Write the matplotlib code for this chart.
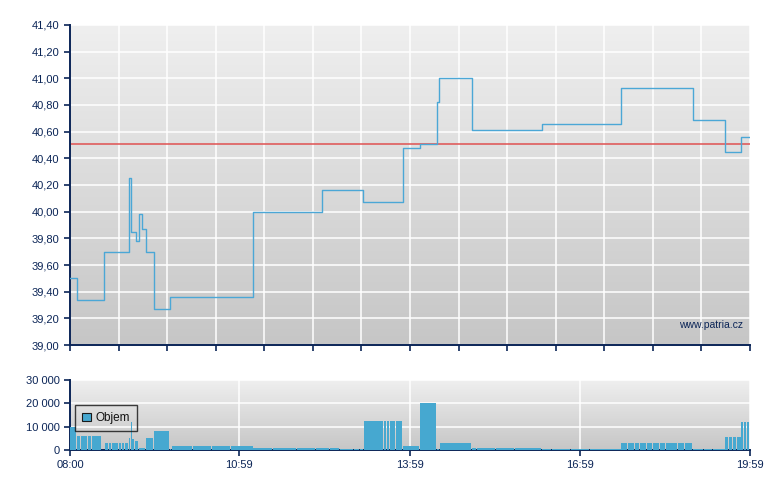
import numpy as np
import matplotlib
matplotlib.use("Agg")
import matplotlib.pyplot as plt
from matplotlib.colors import LinearSegmentedColormap
from matplotlib.ticker import FuncFormatter, FixedLocator
from matplotlib.patches import Patch

# ---- data (minutes after 08:00) ----
price_times = [0, 7, 36, 62, 65, 70, 73, 76, 80, 89, 106, 194, 266, 310, 352, 370,
               388, 390, 425, 499, 583, 659, 693, 710, 719]
price_values = [39.50, 39.34, 39.70, 40.25, 39.85, 39.78, 39.98, 39.87, 39.70, 39.27,
                39.36, 40.00, 40.16, 40.07, 40.48, 40.51, 40.82, 41.00, 40.61, 40.66,
                40.93, 40.69, 40.45, 40.56, 40.56]
ref_price = 40.51

vol_times = [0, 7, 12, 19, 23, 28, 34, 37, 41, 44, 48, 52, 55, 58, 62, 64.5, 65.3, 69,
             73, 80, 89, 106, 108, 130, 150, 170, 194, 215, 240, 260, 275, 285, 300,
             307, 311, 332, 335, 338, 342, 345, 352, 370, 388, 391, 425, 430, 450, 470,
             499, 510, 530, 550, 565, 583, 590, 597, 603, 610, 616, 624, 630, 637, 643,
             650, 659, 670, 680, 693, 697, 701, 705, 710, 713, 716]
vol_values = [10000, 6000, 6000, 6000, 6000, 6000, 0, 3000, 3000, 3000, 3000, 3000, 3000,
              3000, 5000, 12000, 4700, 4000, 900, 5000, 8000, 300, 1700, 1700, 1700, 1700,
              850, 850, 850, 850, 700, 600, 600, 400, 12500, 12500, 12500, 12500, 12500,
              12500, 1700, 20000, 300, 3100, 800, 850, 850, 850, 400, 400, 400, 400, 400,
              3100, 3100, 3100, 3100, 3100, 3100, 3100, 3100, 3100, 3100, 3100, 400, 400,
              400, 5500, 5500, 5500, 5500, 12000, 12000, 12000]
session_end = 719
time_tick_pos = [0, 179, 359, 539, 719]
time_tick_labels = ["08:00", "10:59", "13:59", "16:59", "19:59"]
legend_label = "Objem"
watermark = "www.patria.cz"

# ---- style ----
plt.rcParams['font.family'] = ['Liberation Sans', 'DejaVu Sans']
navy = '#0b2557'
line_c = '#4ba7d6'
bar_c = '#46a8d0'
grad = LinearSegmentedColormap.from_list('g', ['#c6c6c6', '#efefef'])

fig = plt.figure(figsize=(7.8, 4.9), dpi=100)
ax1 = fig.add_axes([70/780, 1-345/490, 680/780, 320/490])
ax2 = fig.add_axes([70/780, 1-450/490, 680/780, 70/490])

for ax in (ax1, ax2):
    ax.imshow(np.linspace(0, 1, 256).reshape(-1, 1), extent=[0, 1, 0, 1],
              transform=ax.transAxes, aspect='auto', cmap=grad, origin='lower', zorder=-2)
    ax.set_axisbelow(True)
    for s in ('top', 'right'):
        ax.spines[s].set_visible(False)
    for s in ('left', 'bottom'):
        ax.spines[s].set_color(navy)
        ax.spines[s].set_linewidth(1.4)
    ax.tick_params(colors=navy, direction='out', length=4, width=1.2, labelsize=8)
    ax.grid(True, color='white', linewidth=1.1)

# price chart
ax1.plot(price_times, price_values, drawstyle='steps-post', color=line_c, linewidth=1.0, zorder=3)
ax1.axhline(ref_price, color='#e05a5a', linewidth=1.3, alpha=0.9, zorder=2)
ax1.set_xlim(0, session_end)
ax1.set_ylim(39.0, 41.4)
ax1.yaxis.set_major_locator(FixedLocator(np.arange(39.0, 41.41, 0.2)))
ax1.yaxis.set_major_formatter(FuncFormatter(lambda v, p: f"{v:.2f}".replace('.', ',')))
ax1.xaxis.set_major_locator(FixedLocator(np.linspace(0, session_end, 15)))
ax1.set_xticklabels([])
ax1.text(0.99, 0.0625, watermark, transform=ax1.transAxes, ha='right', va='center',
         color=navy, fontsize=7.5, zorder=4)

# volume chart
vt = np.array(vol_times, dtype=float)
ends = np.append(vt[1:], session_end)
widths = np.maximum(ends - vt - 0.9, 0.6)
ax2.bar(vt, vol_values, width=widths, align='edge', color=bar_c, linewidth=0, zorder=3)
ax2.set_xlim(0, session_end)
ax2.set_ylim(0, 30000)
ax2.yaxis.set_major_locator(FixedLocator([0, 10000, 20000, 30000]))
ax2.yaxis.set_major_formatter(FuncFormatter(lambda v, p: f"{int(v):,}".replace(',', ' ')))
ax2.xaxis.set_major_locator(FixedLocator(time_tick_pos))
ax2.set_xticklabels(time_tick_labels)

leg = ax2.legend(handles=[Patch(facecolor=bar_c, edgecolor='#1a1a1a', linewidth=0.8, label=legend_label)],
                 loc='upper left', bbox_to_anchor=(5/680, 0.643), borderaxespad=0,
                 fancybox=False, fontsize=8.5, handlelength=0.75, handleheight=0.75,
                 handletextpad=0.35, borderpad=0.6, labelcolor='#111111')
leg.get_frame().set_edgecolor('#111111')
leg.get_frame().set_facecolor('none')
leg.get_frame().set_linewidth(1.0)
leg.set_zorder(5)

fig.savefig('out.png', dpi=100)
